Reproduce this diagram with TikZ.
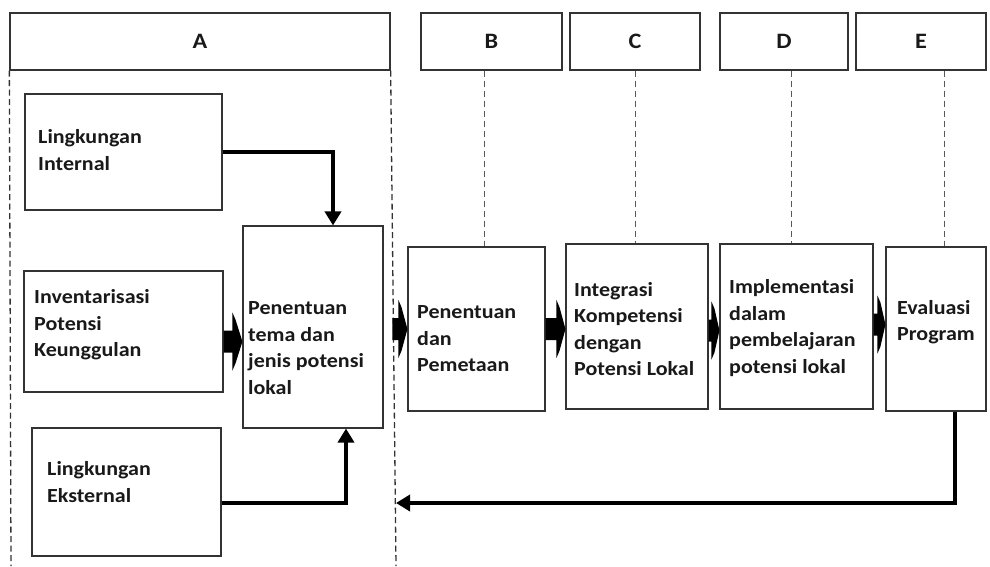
\documentclass[tikz,border=0pt]{standalone}
\usepackage{fontspec}
\setmainfont{Carlito}[FakeStretch=1.1]
\usetikzlibrary{arrows.meta,calc}
% fat block arrow from coordinate #1 to coordinate #2 (horizontal); head #3 long
\newcommand\fatarr[3]{%
  \fill[black] ($(#1)+(0,-11)$) -- ($(#2)+(-#3,-11)$) -- ($(#2)+(-#3,-29)$)
    -- ($(#2)+(-#3+3,-22)$) -- (#2) -- ($(#2)+(-#3+3,22)$)
    -- ($(#2)+(-#3,29)$) -- ($(#2)+(-#3,11)$) -- ($(#1)+(0,11)$) -- cycle;}
\begin{document}
\begin{tikzpicture}[x=1pt,y=-1pt,
  box/.style={draw=black!80, line width=1.1pt, inner sep=0pt, fill=white},
  hdr/.style={draw=black!80, line width=1.3pt, inner sep=0pt, minimum height=57pt, font=\fontsize{22}{25}\selectfont\bfseries, text=black!90},
  txt/.style={anchor=west, align=left, inner sep=0pt, font=\fontsize{20}{26.5}\selectfont\bfseries, text=black!90},
  sideguide/.style={draw=black!80, line width=1.3pt, dash pattern=on 6pt off 3.5pt},
  guide/.style={draw=black!65, line width=1pt, dash pattern=on 6pt off 4pt},
  link/.style={draw=black, line width=4pt, -{Triangle[length=14pt,width=16pt]}},
]
\useasboundingbox (0,0) rectangle (990,566);
% dashed sides of A
\coordinate (abotL) at (11,566);
\coordinate (abotR) at (396,566);
% headers
\node[hdr, minimum width=380pt] (hA) at (200,41.5) {A};
\node[hdr, minimum width=141pt] (hB) at (491.5,41.5) {B};
\node[hdr, minimum width=130pt] (hC) at (635,41.5) {C};
\node[hdr, minimum width=128pt] (hD) at (784,41.5) {D};
\node[hdr, minimum width=130pt] (hE) at (921,41.5) {E};
\draw[sideguide] (hA.south west) -- (abotL);
\draw[sideguide] (hA.south east) -- (abotR);
% boxes
\node[box, minimum width=197pt, minimum height=116pt] (li) at (123.5,152) {};
\node[box, minimum width=199pt, minimum height=121pt] (inv) at (123.5,331.5) {};
\node[box, minimum width=140pt, minimum height=202pt] (pt) at (313,327) {};
\node[box, minimum width=189pt, minimum height=128pt] (le) at (126.5,492) {};
\node[box, minimum width=137pt, minimum height=164pt] (pm) at (476.5,329) {};
\node[box, minimum width=142pt, minimum height=165pt] (ik) at (637,326.5) {};
\node[box, minimum width=153pt, minimum height=165pt] (im) at (796.5,326.5) {};
\node[box, minimum width=100pt, minimum height=164pt] (ev) at (936,329) {};
% texts
\node[txt] (tli) at (38,150) {Lingkungan\\Internal};
\node[txt] (tinv) at (34,325) {Inventarisasi\\Potensi\\Keunggulan};
\node[txt] (tpt) at (248,348) {Penentuan\\tema dan\\jenis potensi\\lokal};
\node[txt] (tle) at (47,482) {Lingkungan\\Eksternal};
\node[txt] (tpm) at (417,339) {Penentuan\\dan\\Pemetaan};
\node[txt] (tik) at (574,329) {Integrasi\\Kompetensi\\dengan\\Potensi Lokal};
\node[txt] (tim) at (729,328) {Implementasi\\dalam\\pembelajaran\\potensi lokal};
\node[txt] (tev) at (897,322) {Evaluasi\\Program};
% dashed guides
\draw[guide] ([xshift=-7.5pt]hB.south) -- ([xshift=-7.5pt]hB.south |- pm.north);
\draw[guide] (hC.south) -- (hC.south |- ik.north);
\draw[guide] ([xshift=7pt]hD.south) -- ([xshift=7pt]hD.south |- im.north);
\draw[guide] ([xshift=23pt]hE.south) -- ([xshift=23pt]hE.south |- ev.north);
% thin arrows
\draw[link] (li.east) -| ([xshift=20pt]pt.north);
\draw[link] ([yshift=-11pt]le.east) -| ([xshift=33pt]pt.south);
\coordinate (ret) at (396,503);
\draw[link] ([xshift=19pt]ev.south) |- (ret);
% fat arrows
\coordinate (f1s) at ([yshift=-10pt]inv.east);
\coordinate (f1e) at (f1s -| pt.west);
\coordinate (f2s) at ([xshift=-15pt]pm.west);
\coordinate (f2e) at (pm.west);
\coordinate (f3s) at (pm.east);
\coordinate (f3e) at (pm.east -| ik.west);
\coordinate (f4s) at ([yshift=-4pt]ik.east);
\coordinate (f4e) at (f4s -| im.west);
\coordinate (f5s) at ([yshift=2pt]im.east);
\coordinate (f5e) at (f5s -| ev.west);
\fatarr{f1s}{f1e}{10}
\fatarr{f2s}{f2e}{9}
\fatarr{f3s}{f3e}{9}
\fatarr{f4s}{f4e}{8}
\fatarr{f5s}{f5e}{8}
\end{tikzpicture}
\end{document}
